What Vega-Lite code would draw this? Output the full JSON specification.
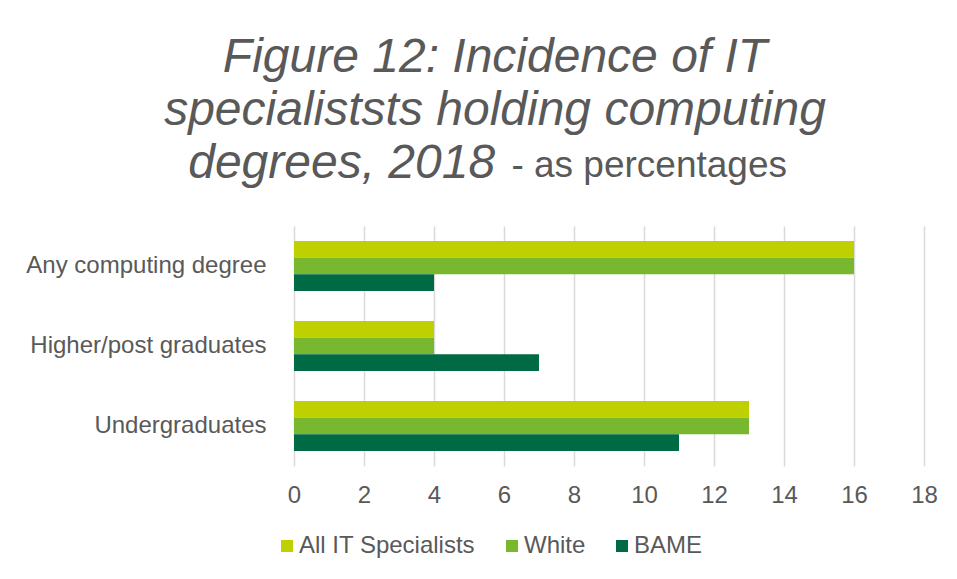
{
  "$schema": "https://vega.github.io/schema/vega-lite/v6.json",
  "width": 630,
  "height": 240,
  "autosize": {"type": "none"},
  "padding": {"left": 294, "top": 226, "right": 33, "bottom": 113},
  "background": "white",
  "title": {
    "text": ["Figure 12: Incidence of IT", "specialiststs holding computing", "degrees, 2018\u00a0\u00a0\u00a0\u00a0\u00a0\u00a0\u00a0\u00a0\u00a0\u00a0\u00a0\u00a0\u00a0\u00a0\u00a0\u00a0\u00a0\u00a0\u00a0\u00a0\u00a0\u00a0\u00a0\u200b"],
    "subtitle": "\u200b\u00a0\u00a0\u00a0\u00a0\u00a0\u00a0\u00a0\u00a0\u00a0\u00a0\u00a0\u00a0\u00a0\u00a0\u00a0\u00a0\u00a0\u00a0\u00a0\u00a0\u00a0\u00a0\u00a0\u00a0\u00a0\u00a0\u00a0\u00a0\u00a0\u00a0- as percentages",
    "anchor": "middle",
    "frame": "group",
    "dx": -114,
    "offset": 38,
    "font": "Liberation Sans",
    "fontSize": 48,
    "fontStyle": "italic",
    "fontWeight": "normal",
    "color": "#595959",
    "lineHeight": 53,
    "subtitleFont": "Liberation Sans",
    "subtitleFontSize": 37,
    "subtitleFontStyle": "normal",
    "subtitleFontWeight": "normal",
    "subtitleColor": "#595959",
    "subtitlePadding": -40
  },
  "data": {
    "values": [
      {"category": "Any computing degree", "group": "All IT Specialists", "value": 16},
      {"category": "Any computing degree", "group": "White", "value": 16},
      {"category": "Any computing degree", "group": "BAME", "value": 4},
      {"category": "Higher/post graduates", "group": "All IT Specialists", "value": 4},
      {"category": "Higher/post graduates", "group": "White", "value": 4},
      {"category": "Higher/post graduates", "group": "BAME", "value": 7},
      {"category": "Undergraduates", "group": "All IT Specialists", "value": 13},
      {"category": "Undergraduates", "group": "White", "value": 13},
      {"category": "Undergraduates", "group": "BAME", "value": 11}
    ]
  },
  "mark": {"type": "bar"},
  "encoding": {
    "y": {
      "field": "category",
      "type": "nominal",
      "sort": ["Any computing degree", "Higher/post graduates", "Undergraduates"],
      "scale": {"paddingInner": 0.375, "paddingOuter": 0.1875},
      "axis": {
        "title": null,
        "domain": false,
        "ticks": false,
        "grid": false,
        "labelPadding": 28,
        "labelLimit": 400,
        "labelFont": "Liberation Sans",
        "labelFontSize": 24,
        "labelColor": "#595959"
      }
    },
    "yOffset": {
      "field": "group",
      "type": "nominal",
      "sort": ["All IT Specialists", "White", "BAME"],
      "scale": {"paddingInner": 0, "paddingOuter": 0}
    },
    "x": {
      "field": "value",
      "type": "quantitative",
      "scale": {"domain": [0, 18], "nice": false},
      "axis": {
        "title": null,
        "values": [0, 2, 4, 6, 8, 10, 12, 14, 16, 18],
        "domain": false,
        "ticks": false,
        "grid": true,
        "gridColor": "#d9d9d9",
        "gridWidth": 1.5,
        "labelPadding": 17,
        "labelFont": "Liberation Sans",
        "labelFontSize": 24,
        "labelColor": "#595959",
        "labelFlush": false
      }
    },
    "color": {
      "field": "group",
      "type": "nominal",
      "sort": ["All IT Specialists", "White", "BAME"],
      "scale": {
        "domain": ["All IT Specialists", "White", "BAME"],
        "range": ["#bed000", "#78b82e", "#006a45"]
      },
      "legend": {
        "title": null,
        "orient": "none",
        "direction": "horizontal",
        "legendX": -19,
        "legendY": 308,
        "padding": 0,
        "symbolType": "square",
        "symbolSize": 144,
        "symbolStrokeWidth": 0,
        "symbolOpacity": 1,
        "labelOffset": 0,
        "labelLimit": 400,
        "columnPadding": 24,
        "labelFont": "Liberation Sans",
        "labelFontSize": 24,
        "labelColor": "#595959"
      }
    }
  },
  "config": {
    "view": {"stroke": null}
  }
}
